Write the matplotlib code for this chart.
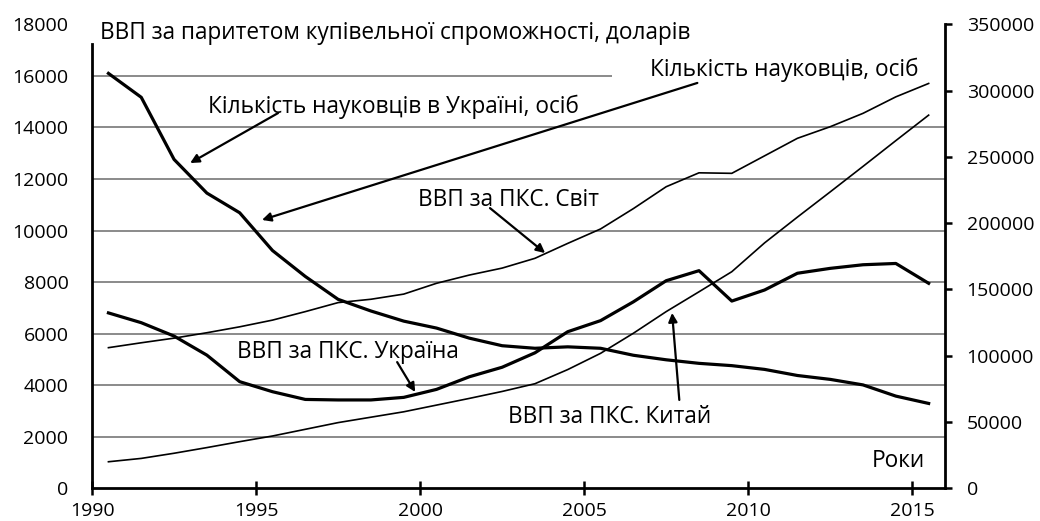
import matplotlib
matplotlib.use('Agg')
import matplotlib.pyplot as plt
import numpy as np

plt.rcParams['font.family'] = ['Open Sans', 'DejaVu Sans']

# data
years = np.arange(1990, 2016)
scientists = [313079, 295010, 248131, 222702, 207828, 179339, 159746, 142468, 133668,
              126019, 120773, 113155, 107447, 105517, 106603, 105512, 100245, 96820,
              94139, 92403, 89564, 84969, 82032, 77853, 69404, 63864]
gdp_ukraine = [6800, 6420, 5900, 5160, 4130, 3740, 3440, 3420, 3420, 3520, 3830, 4320, 4690,
               5250, 6070, 6500, 7230, 8050, 8440, 7260, 7690, 8340, 8530, 8670, 8720, 7950]
gdp_world = [5450, 5640, 5820, 6030, 6260, 6520, 6850, 7200, 7330, 7530, 7950, 8270, 8540,
             8920, 9500, 10060, 10850, 11700, 12240, 12220, 12900, 13580, 14030, 14550, 15190, 15710]
gdp_china = [1020, 1150, 1350, 1570, 1800, 2020, 2280, 2540, 2750, 2960, 3220, 3480, 3750,
             4050, 4600, 5230, 6010, 6850, 7620, 8400, 9520, 10520, 11500, 12490, 13490, 14480]

left_ticks = list(range(0, 18001, 2000))
right_ticks = list(range(0, 350001, 50000))
x_ticks = [1990, 1995, 2000, 2005, 2010, 2015]

fs = 16.3    # captions
tfs = 14     # tick labels
x = years + 0.5  # points sit in the middle of each year

fig = plt.figure(figsize=(10.4, 5.21), dpi=100)
ax = fig.add_axes([0.0885, 0.0633, 0.8202, 0.8897])
ax2 = ax.twinx()

ax.set_xlim(1990, 2016)
ax.set_ylim(0, 18000)
ax2.set_ylim(0, 350000)

# grid lines (the top one stops short)
grid_color = '#8a8a8a'
ax.hlines(left_ticks[1:8], 1990, 2016, color=grid_color, lw=1.4, zorder=1)
ax.hlines([16000], 1990, 2005.85, color=grid_color, lw=1.4, zorder=1)

ax.plot(x, gdp_world, color='black', lw=1.2, zorder=3)
ax.plot(x, gdp_china, color='black', lw=1.2, zorder=3)
ax.plot(x, gdp_ukraine, color='black', lw=2.3, zorder=3)
ax2.plot(x, scientists, color='black', lw=2.3, zorder=3)

# axes styling
for s in ['top', 'right']:
    ax.spines[s].set_visible(False)
for s in ['top', 'left', 'bottom']:
    ax2.spines[s].set_visible(False)
ax.spines['left'].set_linewidth(2)
ax.spines['left'].set_bounds(0, 17250)
ax.spines['bottom'].set_linewidth(2)
ax2.spines['right'].set_linewidth(2)

ax.set_yticks(left_ticks)
ax.tick_params(axis='y', length=0, pad=17, labelsize=tfs)
ax.set_xticks(x_ticks)
ax.tick_params(axis='x', direction='inout', length=9.5, width=1.8, pad=5.5, labelsize=tfs)
ax2.set_yticks(right_ticks)
ax2.tick_params(axis='y', direction='out', length=5, width=1.8, pad=10.5, labelsize=tfs)

# texts (y = baseline)
ax.text(1990.24, 17455, 'ВВП за паритетом купівельної спроможності, доларів',
        fontsize=fs, ha='left', va='baseline')
ax.text(2007.01, 16000, 'Кількість науковців, осіб', fontsize=fs, ha='left', va='baseline')
ax.text(1993.54, 14550, 'Кількість науковців в Україні, осіб', fontsize=fs, ha='left', va='baseline')
ax.text(1999.94, 10950, 'ВВП за ПКС. Світ', fontsize=fs, ha='left', va='baseline')
ax.text(1994.41, 5035, 'ВВП за ПКС. Україна', fontsize=fs, ha='left', va='baseline')
ax.text(2002.69, 2535, 'ВВП за ПКС. Китай', fontsize=fs, ha='left', va='baseline')
ax.text(2015.4, 827, 'Роки', fontsize=fs, ha='right', va='baseline')

arrows = [((1995.67, 14560), (1992.99, 12620)),
          ((2008.45, 15730), (1995.18, 10410)),
          ((2002.13, 10870), (2003.81, 9125)),
          ((1999.3, 4890), (1999.85, 3730)),
          ((2007.9, 3420), (2007.68, 6800))]
for start, end in arrows:
    ax.annotate('', xy=end, xytext=start,
                arrowprops=dict(arrowstyle='-|>', color='black', lw=1.6,
                                mutation_scale=13, shrinkA=0, shrinkB=0),
                zorder=4)

plt.savefig('out.png', dpi=100)
